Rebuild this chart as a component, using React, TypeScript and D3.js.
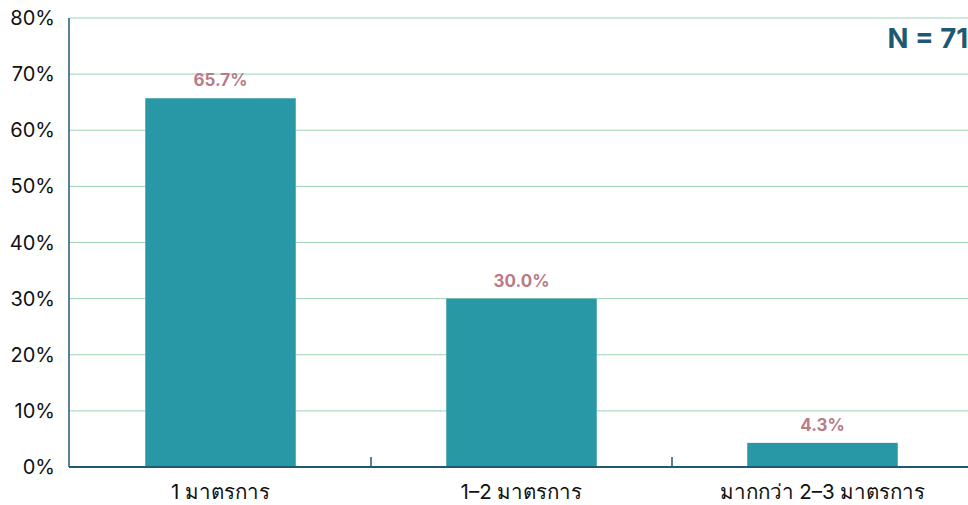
import React from "react";
import * as d3 from "d3";

const categories = ["1 มาตรการ", "1–2 มาตรการ", "มากกว่า 2–3 มาตรการ"];
const values = [65.7, 30.0, 4.3];
const yTicks = [0, 10, 20, 30, 40, 50, 60, 70, 80];
const sampleLabel = "N = 71";

const W = 968;
const H = 505;
const M = { left: 69, top: 18, bottom: 38 };

export default function App() {
  const x = d3
    .scaleBand<string>()
    .domain(categories)
    .range([M.left + 1, M.left + 1 + 903])
    .padding(0);
  const y = d3.scaleLinear().domain([0, 80]).range([H - M.bottom, M.top]);
  const barW = x.bandwidth() * 0.5;
  const font = "Inter, 'Noto Sans', 'DejaVu Sans', sans-serif";

  return (
    <svg
      width={W}
      height={H}
      style={{ position: "absolute", left: 0, top: 0, background: "#fff" }}
      fontFamily={font}
    >
      {/* gridlines */}
      {yTicks.slice(1).map((t) => (
        <line
          key={t}
          x1={M.left}
          x2={W}
          y1={y(t)}
          y2={y(t)}
          stroke="#9dd3b3"
          strokeWidth={1}
        />
      ))}
      {/* y tick labels */}
      {yTicks.map((t) => (
        <text
          key={t}
          x={M.left - 14}
          y={y(t)}
          dy="0.35em"
          textAnchor="end"
          fontSize={20}
          fill="#111"
        >
          {t}%
        </text>
      ))}
      {/* bars */}
      {categories.map((c, i) => (
        <rect
          key={c}
          x={(x(c) as number) + (x.bandwidth() - barW) / 2}
          y={y(values[i])}
          width={barW}
          height={y(0) - y(values[i])}
          fill="#2897a6"
        />
      ))}
      {/* value labels */}
      {categories.map((c, i) => (
        <text
          key={c}
          x={(x(c) as number) + x.bandwidth() / 2}
          y={y(values[i]) - 12}
          textAnchor="middle"
          fontSize={17}
          fontWeight="bold"
          fill="#b97b87"
        >
          {values[i].toFixed(1)}%
        </text>
      ))}
      {/* axes */}
      <line x1={M.left} x2={M.left} y1={y(80)} y2={y(0)} stroke="#1f5a73" strokeWidth={1.5} />
      <line x1={M.left} x2={W} y1={y(0)} y2={y(0)} stroke="#1f5a73" strokeWidth={2} />
      {categories.slice(1).map((c) => (
        <line
          key={c}
          x1={x(c) as number}
          x2={x(c) as number}
          y1={y(0) - 10}
          y2={y(0)}
          stroke="#1f5a73"
          strokeWidth={1.5}
        />
      ))}
      {/* category labels */}
      {categories.map((c) => (
        <text
          key={c}
          x={(x(c) as number) + x.bandwidth() / 2}
          y={y(0) + 32}
          textAnchor="middle"
          fontSize={20.5}
          fill="#111"
        >
          {c}
        </text>
      ))}
      <text
        x={W}
        y={48}
        textAnchor="end"
        fontSize={27.5}
        fontWeight="bold"
        fill="#1d5a72"
      >
        {sampleLabel}
      </text>
    </svg>
  );
}
